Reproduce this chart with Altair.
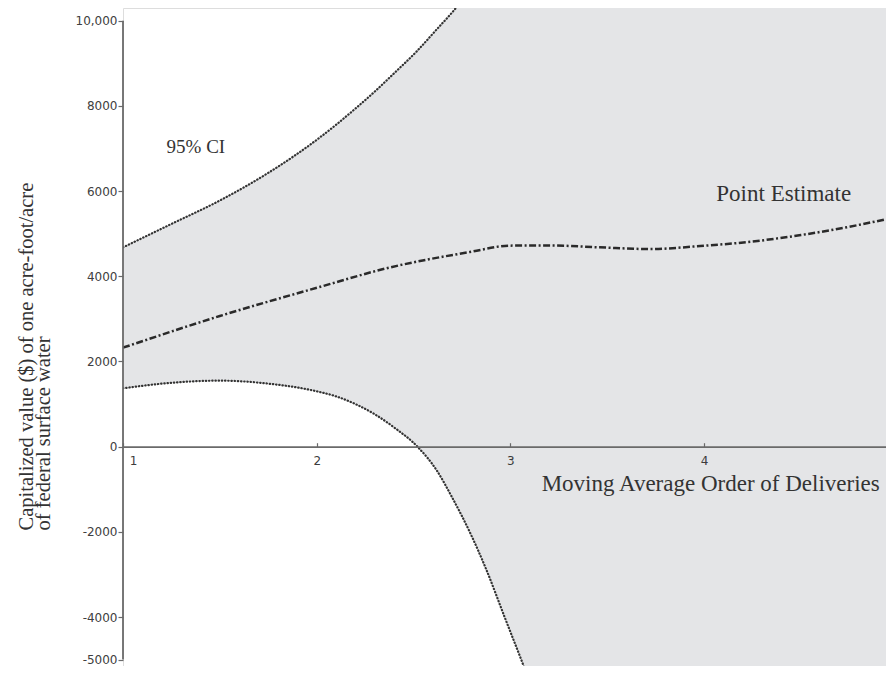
import altair as alt
import pandas as pd

# Point estimate (dash-dot line)
est_x = [1.0, 1.5, 2.02, 2.36, 2.79, 3.0, 3.2, 3.46, 3.72, 3.98, 4.24, 4.5, 4.75, 4.94]
est_y = [2324, 3068, 3756, 4188, 4570, 4720, 4725, 4680, 4640, 4711, 4812, 4969, 5164, 5340]

# 95% confidence band (values beyond the visible range continue off-chart)
ci_x = [1.0, 1.25, 1.5, 1.75, 2.0, 2.1, 2.2, 2.3, 2.4, 2.52, 2.62, 2.7, 2.8, 2.87, 2.97,
        3.07, 3.15, 3.3, 3.6, 4.0, 4.5, 4.94]
ci_lower = [1370, 1500, 1550, 1480, 1300, 1180, 1000, 760, 450, 0, -560, -1200, -2100, -2825, -4000,
            -5170, -6150, -8000, -11500, -16000, -21000, -26000]
ci_upper = [4680, 5230, 5780, 6430, 7205, 7560, 7940, 8340, 8770, 9300, 9800, 10200, 10750, 11150, 11750,
            12400, 12950, 14000, 16500, 20000, 24000, 28000]

y_ticks = [-5000, -4000, -2000, 0, 2000, 4000, 6000, 8000, 10000]
x_ticks = [1, 2, 3, 4]

est = pd.DataFrame({"x": est_x, "y": est_y})
ci = pd.DataFrame({"x": ci_x, "lo": ci_lower, "hi": ci_upper})
axis_rule = pd.DataFrame({"x": [1.0], "y": [-5000], "y2": [10000]})
lab_ci = pd.DataFrame({"x": [1.376], "y": [7035], "t": ["95% CI"]})
lab_pe = pd.DataFrame({"x": [4.411], "y": [5933], "t": ["Point Estimate"]})
lab_xt = pd.DataFrame({"x": [4.034], "y": [-875], "t": ["Moving Average Order of Deliveries"]})

xs = alt.Scale(domain=[1, 4.939], nice=False, zero=False)
ys = alt.Scale(domain=[-5150, 10300], nice=False, zero=False)

AX = "#6a6a6a"

x_axis = alt.Axis(
    orient="top", offset=-438.7, values=x_ticks, format="d", title=None, grid=False,
    domainColor=AX, domainWidth=1.8, tickColor=AX, tickSize=4, tickWidth=1.2,
    labelFont="DejaVu Sans", labelFontSize=12, labelColor="#3c3c3c",
    labelBaseline="top", labelPadding=-13, labelAlign="center",
    labelOffset={"condition": {"test": "datum.value == 1", "value": 10}, "value": 0},
    zindex=1,
)
y_axis = alt.Axis(
    values=y_ticks, grid=False, domain=False,
    tickColor=AX, tickSize=5, tickWidth=1.2,
    labelFont="DejaVu Sans", labelFontSize=12, labelColor="#404040", labelPadding=1,
    labelExpr="datum.value == 10000 ? '10,000' : '' + datum.value",
    title=["Capitalized value ($) of one acre-foot/acre", "of federal surface water"],
    titleFont="Liberation Serif", titleFontSize=20.5, titleFontWeight="normal",
    titleColor="#333", titleAngle=270, titleAlign="left", titleBaseline="top",
    titleLineHeight=17.5, titleX=-107, titleY=522,
    zindex=1,
)

band = alt.Chart(ci).mark_area(color="#e4e5e7", interpolate="monotone", clip=True).encode(
    x=alt.X("x:Q", scale=xs, axis=x_axis),
    y=alt.Y("lo:Q", scale=ys, axis=y_axis),
    y2="hi:Q",
)
dot_style = dict(color="#333333", strokeWidth=2.2, strokeDash=[0.4, 2.8], strokeCap="round",
                 interpolate="monotone", clip=True)
lo_line = alt.Chart(ci).mark_line(**dot_style).encode(
    x=alt.X("x:Q", scale=xs), y=alt.Y("lo:Q", scale=ys))
hi_line = alt.Chart(ci).mark_line(**dot_style).encode(
    x=alt.X("x:Q", scale=xs), y=alt.Y("hi:Q", scale=ys))
est_line = alt.Chart(est).mark_line(color="#2a2a2a", strokeWidth=2.5, strokeDash=[7, 2.5, 2, 2.5],
                                    interpolate="monotone", clip=True).encode(
    x=alt.X("x:Q", scale=xs), y=alt.Y("y:Q", scale=ys))
yrule = alt.Chart(axis_rule).mark_rule(color=AX, strokeWidth=1.8).encode(
    x=alt.X("x:Q", scale=xs), y=alt.Y("y:Q", scale=ys), y2="y2:Q")

def label(df, size):
    return alt.Chart(df).mark_text(font="Liberation Serif", fontSize=size, color="#333",
                                   align="center", baseline="middle").encode(
        x=alt.X("x:Q", scale=xs), y=alt.Y("y:Q", scale=ys), text="t:N")

chart = alt.layer(
    band, lo_line, hi_line, est_line, yrule,
    label(lab_ci, 19), label(lab_pe, 23), label(lab_xt, 23),
).properties(
    width=763, height=658,
    autosize=alt.AutoSizeParams(type="none"),
    padding={"left": 115, "top": 0, "right": 0, "bottom": 0},
).configure_view(stroke=None).configure(background="white")

chart.save("out.html", embed_options={"renderer": "svg", "actions": False})
